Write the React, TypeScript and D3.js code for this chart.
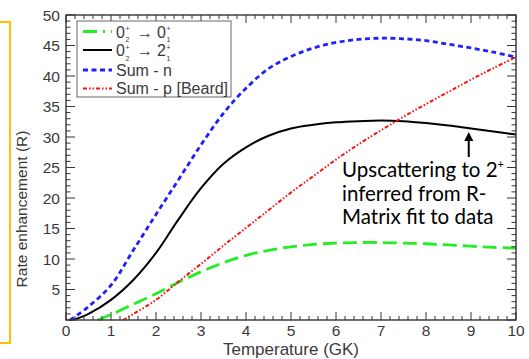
import React from "react";
import * as d3 from "d3";

// Temperature (GK) and rate-enhancement values for each curve
const transition00Temps = [0.7, 1, 1.5, 2, 2.5, 3, 3.5, 4, 4.5, 5, 5.5, 6, 6.5, 7, 7.5, 8, 8.5, 9, 9.5, 10];
const transition00Values = [0, 0.9, 2.6, 4.3, 6.2, 7.9, 9.4, 10.6, 11.4, 12.0, 12.4, 12.6, 12.7, 12.7, 12.6, 12.5, 12.3, 12.1, 11.9, 11.8];

const transition02Temps = [0.15, 0.5, 1, 1.5, 2, 2.5, 3, 3.5, 4, 4.5, 5, 5.5, 6, 6.5, 7, 7.5, 8, 8.5, 9, 9.5, 10];
const transition02Values = [0, 1.0, 3.3, 6.6, 11.0, 16.5, 21.6, 25.6, 28.3, 30.2, 31.4, 32.0, 32.4, 32.6, 32.7, 32.6, 32.3, 31.9, 31.4, 30.9, 30.4];

const sumNTemps = [0.09, 0.5, 1, 1.5, 2, 2.5, 3, 3.5, 4, 4.5, 5, 5.5, 6, 6.5, 7, 7.5, 8, 8.5, 9, 9.5, 10];
const sumNValues = [0, 2.2, 5.7, 11.5, 17.3, 23.0, 28.7, 33.9, 38.0, 41.2, 43.2, 44.6, 45.5, 46.0, 46.2, 46.1, 45.8, 45.2, 44.6, 43.9, 43.1];

const sumPTemps = [1.27, 1.5, 2, 2.5, 3, 3.5, 4, 4.5, 5, 5.5, 6, 6.5, 7, 7.5, 8, 8.5, 9, 9.5, 10];
const sumPValues = [0, 1.0, 3.3, 6.3, 9.2, 12.2, 15.1, 18.0, 20.9, 23.6, 26.3, 28.8, 31.1, 33.3, 35.4, 37.4, 39.4, 41.3, 43.1];

const xTickLabels = ["0", "1", "2", "3", "4", "5", "6", "7", "8", "9", "10"];
const yTickLabels = ["5", "10", "15", "20", "25", "30", "35", "40", "45", "50"];

const annotationLines = ["Upscattering to 2", "inferred from R-", "Matrix fit to data"];

const W = 529;
const H = 359;
const plot = { left: 66, right: 516, top: 15, bottom: 320 };

const x = d3.scaleLinear().domain([0, 10]).range([plot.left, plot.right]);
const y = d3.scaleLinear().domain([0, 50]).range([plot.bottom, plot.top]);

const lineGen = d3
  .line<[number, number]>()
  .x((d) => x(d[0]))
  .y((d) => y(d[1]))
  .curve(d3.curveCatmullRom.alpha(0.5));

const zip = (t: number[], v: number[]) => t.map((tt, i) => [tt, v[i]] as [number, number]);

const series = [
  { key: "g", pts: zip(transition00Temps, transition00Values), color: "#22ee22", width: 2.8, dash: "14 6" },
  { key: "k", pts: zip(transition02Temps, transition02Values), color: "#000000", width: 2, dash: undefined },
  { key: "b", pts: zip(sumNTemps, sumNValues), color: "#1f1fff", width: 2.8, dash: "5 3.5" },
  { key: "r", pts: zip(sumPTemps, sumPValues), color: "#ff1010", width: 2, dash: "4 2 1.5 2 1.5 2" },
];

const axisColor = "#333";
const textColor = "#3a3a3a";

export default function App() {
  const xMinor = d3.range(0, 10.001, 0.2);
  const yMinor = d3.range(0, 50.001, 1);

  const legendRows = [
    { y: 31.5, color: "#22ee22", width: 2.8, dash: "14 6 2 6", kind: "00" },
    { y: 50, color: "#000", width: 2, dash: undefined, kind: "02" },
    { y: 70, color: "#1f1fff", width: 2.8, dash: "5 3.5", kind: "n" },
    { y: 88.5, color: "#ff1010", width: 2, dash: "4 2 1.5 2 1.5 2", kind: "p" },
  ];

  const lx0 = 83;
  const lx1 = 112;
  const tx = 116;

  return (
    <svg
      width={W}
      height={H}
      style={{ position: "absolute", left: 0, top: 0, background: "#fff" }}
      fontFamily="'Liberation Sans', Arial, sans-serif"
    >
      {/* side bracket */}
      <polyline points={`0,22 10,22 10,343 0,343`} fill="none" stroke="#FFC000" strokeWidth={2} />

      {/* curves */}
      <g>
        {series.map((s) => (
          <path
            key={s.key}
            d={lineGen(s.pts) || ""}
            fill="none"
            stroke={s.color}
            strokeWidth={s.width}
            strokeDasharray={s.dash}
          />
        ))}
      </g>

      {/* frame */}
      <rect
        x={plot.left}
        y={plot.top}
        width={plot.right - plot.left}
        height={plot.bottom - plot.top}
        fill="none"
        stroke={axisColor}
        strokeWidth={1.4}
      />

      {/* x ticks, bottom and top */}
      {xMinor.map((t, i) => {
        const major = Math.abs(t - Math.round(t)) < 1e-6;
        const len = major ? 8 : 4;
        const px = x(t);
        return (
          <g key={"xt" + i} stroke={axisColor} strokeWidth={1}>
            <line x1={px} x2={px} y1={plot.bottom} y2={plot.bottom - len} />
            <line x1={px} x2={px} y1={plot.top} y2={plot.top + len} />
          </g>
        );
      })}

      {/* y ticks, left and right */}
      {yMinor.map((v, i) => {
        const major = v % 5 === 0;
        const len = major ? 9 : 4.5;
        const py = y(v);
        return (
          <g key={"yt" + i} stroke={axisColor} strokeWidth={1}>
            <line x1={plot.left} x2={plot.left + len} y1={py} y2={py} />
            <line x1={plot.right} x2={plot.right - len} y1={py} y2={py} />
          </g>
        );
      })}

      {/* tick labels */}
      {xTickLabels.map((lab) => (
        <text key={"xl" + lab} x={x(+lab)} y={335.5} textAnchor="middle" fontSize={15.5} fill={textColor}>
          {lab}
        </text>
      ))}
      {yTickLabels.map((lab) => (
        <text
          key={"yl" + lab}
          x={plot.left - 6}
          y={y(+lab) + 5.5}
          textAnchor="end"
          fontSize={15.5}
          fill={textColor}
        >
          {lab}
        </text>
      ))}

      {/* axis titles */}
      <text x={291} y={354.5} textAnchor="middle" fontSize={17} fill={textColor}>
        Temperature (GK)
      </text>
      <text
        transform={`translate(27, 209) rotate(-90)`}
        textAnchor="middle"
        fontSize={15.5}
        fill={textColor}
      >
        Rate enhancement (R)
      </text>

      {/* legend */}
      <rect x={77} y={21} width={154} height={76} fill="#fff" stroke="#666" strokeWidth={1} />
      {legendRows.map((r) => (
        <g key={r.kind}>
          <line
            x1={lx0}
            x2={lx1}
            y1={r.y}
            y2={r.y}
            stroke={r.color}
            strokeWidth={r.width}
            strokeDasharray={r.dash}
          />
          {r.kind === "00" || r.kind === "02" ? (
            <text y={r.y + 6} fontSize={16} fill={textColor}>
              <tspan x={tx}>0</tspan>
              <tspan x={tx + 9.5} dy={-6.5} fontSize={7}>+</tspan>
              <tspan x={tx + 9.5} dy={11} fontSize={7}>2</tspan>
              <tspan x={tx + 21} dy={-4.5}>→</tspan>
              <tspan x={tx + 41}>{r.kind === "00" ? "0" : "2"}</tspan>
              <tspan x={tx + 50.5} dy={-6.5} fontSize={7}>+</tspan>
              <tspan x={tx + 50.5} dy={11} fontSize={7}>1</tspan>
            </text>
          ) : (
            <text x={tx} y={r.y + 5.5} fontSize={16} fill={textColor}>
              {r.kind === "n" ? "Sum - n" : "Sum - p [Beard]"}
            </text>
          )}
        </g>
      ))}

      {/* annotation */}
      <line x1={x(8.95)} x2={x(8.95)} y1={157} y2={140} stroke="#000" strokeWidth={2} />
      <path
        d={`M${x(8.95) - 4.5},${141} L${x(8.95)},${132} L${x(8.95) + 4.5},${141} Z`}
        fill="#000"
      />
      {annotationLines.map((ln, i) => (
        <text
          key={ln}
          x={342}
          y={177 + i * 23.5}
          fontSize={20.5}
          fontFamily="Lato, 'Open Sans', sans-serif"
          fill="#000"
        >
          {ln}
          {i === 0 ? (
            <tspan dy={-9} fontSize={11}>+</tspan>
          ) : null}
        </text>
      ))}
    </svg>
  );
}
